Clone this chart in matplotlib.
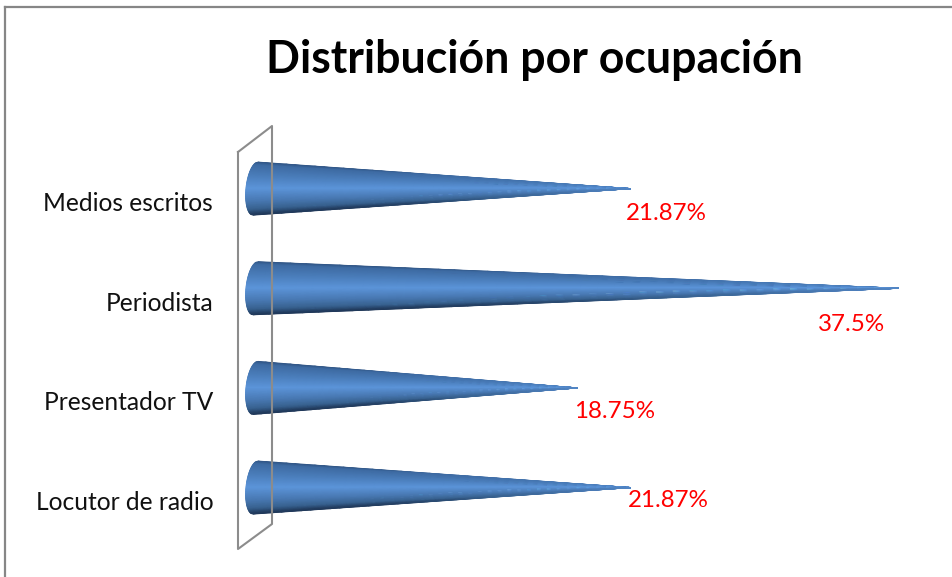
import numpy as np
import matplotlib
matplotlib.use("Agg")
import matplotlib.pyplot as plt
from matplotlib.colors import LinearSegmentedColormap
from matplotlib.lines import Line2D
from matplotlib.transforms import Affine2D, ScaledTranslation

categories = ["Medios escritos", "Periodista", "Presentador TV", "Locutor de radio"]
values = [21.87, 37.5, 18.75, 21.87]
value_labels = ["21.87%", "37.5%", "18.75%", "21.87%"]
title = "Distribución por ocupación"

W, H = 953, 577
plt.rcParams["font.family"] = ["Lato", "DejaVu Sans"]
fig = plt.figure(figsize=(W / 100, H / 100), dpi=100, facecolor="white")
px = Affine2D().scale(1 / W, -1 / H).translate(0, 1) + fig.transFigure

# plot area: value 0 at x=255.5 px, 17.15 px per percentage point
left, right, top, bottom = 255.5, 920, 138.8, 537.4
ax = fig.add_axes([left / W, 1 - bottom / H, (right - left) / W, (bottom - top) / H])
ax.set_xlim(0, (right - left) / 17.15)
ax.set_ylim(3.5, -0.5)
ax.patch.set_alpha(0)
for s in ax.spines.values():
    s.set_visible(False)
ax.xaxis.set_visible(False)
ax.set_yticks(range(len(categories)), categories)
ax.tick_params(axis="y", length=0, pad=30.5, labelsize=17.7, labelcolor="#111111")
down = ScaledTranslation(0, -13 / 100, fig.dpi_scale_trans)
for lab in ax.get_yticklabels():
    lab.set_transform(lab.get_transform() + down)

# frame and back wall
for xs, ys in [((5.5, 5.5), (577, 6.5)), ((5.5, 953), (6.5, 6.5))]:
    fig.add_artist(Line2D(xs, ys, transform=px, color="#868686", lw=1.6))
fig.add_artist(Line2D([238, 272, 272, 238, 238], [152, 126, 524, 549, 152],
                      transform=px, color="#8c8c8c", lw=1.5, zorder=0.5))

cmap = LinearSegmentedColormap.from_list("cone", [
    (0.00, "#315686"), (0.05, "#3e6ba3"), (0.25, "#4a7dba"), (0.50, "#5c95da"),
    (0.75, "#4878b2"), (0.90, "#386290"), (1.00, "#203859")])

sv = np.linspace(-1, 1, 81)
su = np.linspace(0, 1, 40)
half_h = 26.5 / 99.67
px_x = 1 / 17.15
for i, val in enumerate(values):
    U, V = np.meshgrid(su, sv)
    base = (-9.5 * np.sqrt(1 - sv**2) - 2.5 * sv) * px_x
    X = base[:, None] * (1 - U) + val * U
    Y = i + V * half_h * (1 - U)
    C = (V * (1 - 0.75 * U**3) + 1) / 2
    ax.pcolormesh(X, Y, C, cmap=cmap, vmin=0, vmax=1,
                  shading="gouraud", clip_on=False, zorder=3)

offsets = [(36, -25), (-47, -36), (37, -24), (38, -13)]
for i, (val, lab, off) in enumerate(zip(values, value_labels, offsets)):
    ax.annotate(lab, (val, i), xytext=off, textcoords="offset pixels",
                ha="center", va="center", color="#ff0000", fontsize=17.4, zorder=4)

fig.text(534.5 / W, 1 - 60 / H, title, ha="center", va="center",
         fontsize=32.1, fontweight="bold", color="black")

fig.savefig("out.png", dpi=100)
